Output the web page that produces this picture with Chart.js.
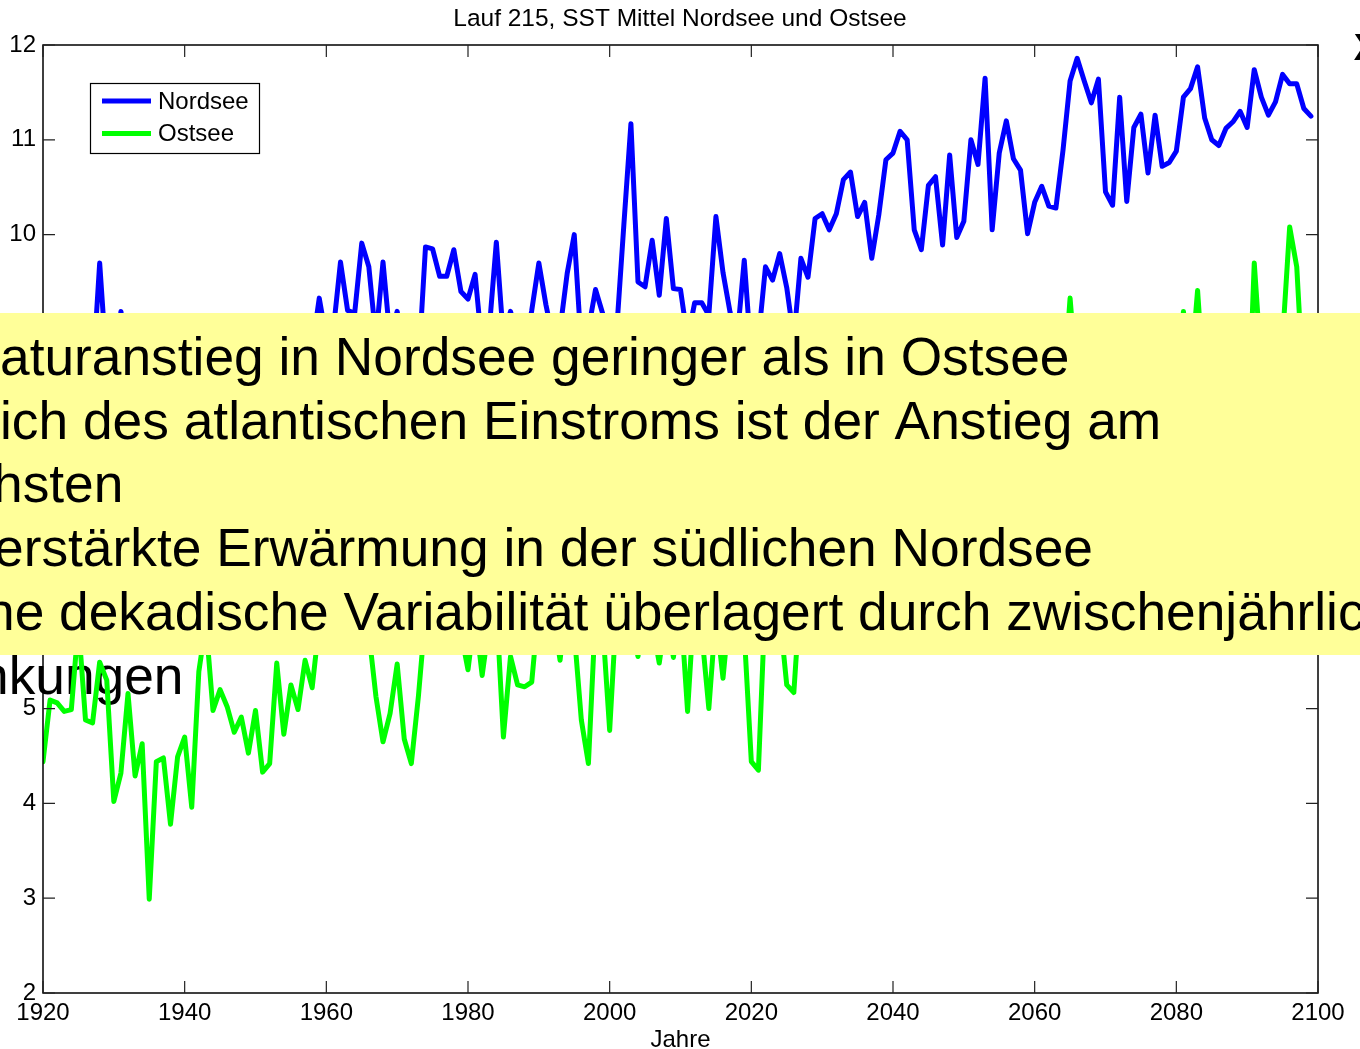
<!DOCTYPE html>
<html>
<head>
<meta charset="utf-8">
<script src="https://cdn.jsdelivr.net/npm/chart.js@4.4.1/dist/chart.umd.min.js"></script>
<style>
  html, body { margin: 0; padding: 0; background: #fff; overflow: hidden; }
  #wrap { width: 1360px; height: 1049px; }
</style>
</head>
<body>
<div id="wrap"><canvas id="chart" width="1360" height="1049"></canvas></div>
<script>
// Jahresmittel der SST, Lauf 215 (1920 .. 2099)
const FIRST_YEAR = 1920;

const nordsee = [
  9.15, 8.7, 8.5, 8.8, 8.4, 8.6, 8.9, 8.5, 9.70, 8.6,
  8.4, 9.19, 8.6, 8.3, 8.7, 8.2, 8.6, 8.5, 8.3, 8.8,
  8.6, 8.2, 8.9, 9.0, 8.5, 8.8, 8.6, 8.9, 8.4, 8.9,
  8.7, 8.5, 8.8, 9.0, 8.6, 8.9, 8.5, 9.0, 8.8, 9.33,
  8.9, 9.0, 9.71, 9.2, 9.17, 9.91, 9.66, 8.9, 9.71, 8.9,
  9.19, 8.7, 8.9, 8.6, 9.87, 9.85, 9.56, 9.56, 9.84, 9.40,
  9.32, 9.58, 8.8, 9.0, 9.92, 8.9, 9.19, 8.9, 8.8, 9.20,
  9.70, 9.26, 8.9, 9.0, 9.59, 10.0, 8.8, 9.0, 9.42, 9.17,
  8.9, 9.0, 10.1, 11.17, 9.50, 9.45, 9.94, 9.36, 10.17, 9.43,
  9.42, 8.9, 9.28, 9.28, 9.15, 10.19, 9.60, 9.18, 8.9, 9.73,
  8.7, 8.9, 9.66, 9.52, 9.80, 9.44, 8.9, 9.75, 9.55, 10.17,
  10.22, 10.05, 10.22, 10.58, 10.66, 10.19, 10.34, 9.75, 10.21, 10.79,
  10.86, 11.09, 11.0, 10.05, 9.84, 10.52, 10.61, 9.89, 10.84, 9.97,
  10.14, 11.0, 10.74, 11.65, 10.05, 10.86, 11.2, 10.8, 10.68, 10.01,
  10.34, 10.51, 10.3, 10.28, 10.89, 11.62, 11.86, 11.62, 11.39, 11.64,
  10.45, 10.31, 11.45, 10.35, 11.13, 11.27, 10.65, 11.26, 10.72, 10.76,
  10.88, 11.45, 11.54, 11.77, 11.23, 11.0, 10.94, 11.12, 11.19, 11.30,
  11.13, 11.74, 11.45, 11.26, 11.40, 11.69, 11.59, 11.59, 11.33, 11.25,
];

const ostsee = [
  4.44, 5.09, 5.06, 4.97, 4.99, 5.9, 4.88, 4.85, 5.49, 5.3,
  4.02, 4.32, 5.16, 4.29, 4.63, 2.99, 4.44, 4.48, 3.78, 4.49,
  4.70, 3.96, 5.39, 5.9, 4.98, 5.20, 5.02, 4.75, 4.91, 4.53,
  4.98, 4.33, 4.42, 5.48, 4.73, 5.25, 4.99, 5.51, 5.22, 5.9,
  6.2, 6.0, 6.4, 5.9, 6.3, 6.1, 5.8, 5.13, 4.65, 4.95,
  5.47, 4.68, 4.42, 5.13, 6.0, 6.3, 5.9, 6.2, 6.0, 5.8,
  5.41, 6.0, 5.35, 5.9, 6.1, 4.70, 5.55, 5.25, 5.23, 5.28,
  6.1, 5.9, 6.0, 5.51, 6.2, 5.8, 4.88, 4.42, 6.0, 5.9,
  4.77, 6.1, 6.3, 5.9, 5.55, 6.2, 5.9, 5.48, 6.0, 5.54,
  6.1, 4.97, 6.2, 5.8, 5.00, 6.0, 5.32, 6.1, 6.0, 5.8,
  4.44, 4.35, 6.2, 6.4, 6.0, 5.25, 5.17, 6.3, 6.6, 7.0,
  6.4, 6.8, 7.2, 6.5, 7.4, 6.9, 6.2, 7.1, 7.5, 6.8,
  7.3, 7.8, 7.0, 6.6, 7.2, 7.6, 6.9, 7.4, 8.0, 7.1,
  7.5, 7.9, 7.2, 8.2, 7.0, 7.6, 8.1, 7.4, 7.8, 6.9,
  7.5, 7.9, 7.3, 7.7, 8.3, 9.33, 8.4, 8.0, 7.6, 8.5,
  7.2, 7.5, 8.3, 7.1, 7.9, 8.2, 7.4, 8.1, 7.6, 7.8,
  8.0, 9.19, 8.5, 9.41, 8.3, 7.8, 7.9, 8.2, 8.4, 8.1,
  7.7, 9.70, 8.6, 8.0, 8.3, 8.9, 10.08, 9.66, 8.3, 8.1,
];

const xTicks = [1920, 1940, 1960, 1980, 2000, 2020, 2040, 2060, 2080, 2100];
const yTicks = [2, 3, 4, 5, 6, 7, 8, 9, 10, 11, 12];

const chartTitle = 'Lauf 215, SST Mittel Nordsee und Ostsee';
const xTitle = 'Jahre';

// Textfeld der Folie, links abgeschnitten
const noteLines = [
  { text: 'aturanstieg in Nordsee geringer als in Ostsee', x: 0 },
  { text: 'ich des atlantischen Einstroms ist der Anstieg am', x: 0 },
  { text: 'hsten', x: -7 },
  { text: 'erstärkte Erwärmung in der südlichen Nordsee', x: -6 },
  { text: 'he dekadische Variabilität überlagert durch zwischenjährlic', x: -15 },
];
const noteTail = { text: 'nkungen', x: -21 };

const FONT = '"Liberation Sans", Arial, Helvetica, sans-serif';
const years = nordsee.map((_, i) => FIRST_YEAR + i);
const toPoints = (vals) => vals.map((v, i) => ({ x: years[i], y: v }));

const frame = {
  id: 'frame',
  afterDatasetsDraw(chart) {
    const { ctx, chartArea: a, scales: { x, y } } = chart;
    ctx.save();
    ctx.strokeStyle = '#000';
    ctx.lineWidth = 1.5;
    ctx.strokeRect(a.left, a.top, a.right - a.left, a.bottom - a.top);
    ctx.lineWidth = 1.2;
    ctx.strokeStyle = '#222';
    ctx.beginPath();
    x.ticks.forEach((t) => {
      const px = x.getPixelForValue(t.value);
      ctx.moveTo(px, a.bottom); ctx.lineTo(px, a.bottom - 12);
      ctx.moveTo(px, a.top); ctx.lineTo(px, a.top + 12);
    });
    y.ticks.forEach((t) => {
      const py = y.getPixelForValue(t.value);
      ctx.moveTo(a.left, py); ctx.lineTo(a.left + 12, py);
      ctx.moveTo(a.right, py); ctx.lineTo(a.right - 12, py);
    });
    ctx.stroke();
    ctx.restore();
  },
};

const overlay = {
  id: 'overlay',
  beforeDatasetsDraw(chart) {
    const { ctx } = chart;
    ctx.save();
    ctx.font = '53.3px ' + FONT;
    ctx.fillStyle = '#000';
    ctx.textBaseline = 'alphabetic';
    ctx.fillText(noteTail.text, noteTail.x, 693.5);
    ctx.restore();
  },
  afterDraw(chart) {
    const { ctx } = chart;
    ctx.save();

    // Legende
    ctx.fillStyle = '#fff';
    ctx.fillRect(90.5, 83.5, 169, 70);
    ctx.strokeStyle = '#000';
    ctx.lineWidth = 1.2;
    ctx.strokeRect(90.5, 83.5, 169, 70);
    ctx.font = '24px ' + FONT;
    ctx.textBaseline = 'middle';
    chart.data.datasets.forEach((ds, i) => {
      const ly = 101 + i * 32.5;
      ctx.strokeStyle = ds.borderColor;
      ctx.lineWidth = 5;
      ctx.beginPath();
      ctx.moveTo(102, ly); ctx.lineTo(151, ly);
      ctx.stroke();
      ctx.fillStyle = '#000';
      ctx.fillText(ds.label, 158, ly + 1);
    });

    // gelbes Textfeld
    ctx.fillStyle = '#ffff99';
    ctx.fillRect(0, 313, 1360, 342);
    ctx.fillStyle = '#000';
    ctx.font = '53.3px ' + FONT;
    ctx.textBaseline = 'alphabetic';
    noteLines.forEach((l, i) => ctx.fillText(l.text, l.x, 375 + i * 63.7));

    // Rest eines Symbols am rechten Rand
    ctx.font = 'bold 37px ' + FONT;
    ctx.textAlign = 'center';
    ctx.fillText('X', 1366, 60);
    ctx.restore();
  },
};

new Chart(document.getElementById('chart'), {
  type: 'line',
  data: {
    datasets: [
      { label: 'Nordsee', data: toPoints(nordsee), borderColor: '#0000ff', yAxisID: 'y' },
      { label: 'Ostsee', data: toPoints(ostsee), borderColor: '#00ff00', yAxisID: 'y' },
    ],
  },
  options: {
    responsive: false,
    animation: false,
    events: [],
    layout: { padding: 0 },
    elements: {
      point: { radius: 0 },
      line: { borderWidth: 5, tension: 0, borderJoinStyle: 'round', borderCapStyle: 'round', fill: false },
    },
    plugins: {
      legend: { display: false },
      tooltip: { enabled: false },
      title: {
        display: true,
        text: chartTitle,
        color: '#000',
        font: { family: FONT, size: 24.5, weight: 'normal', lineHeight: 1.2 },
        padding: { top: 4.2, bottom: 11.4 },
      },
    },
    scales: {
      x: {
        type: 'linear',
        min: 1920,
        max: 2100,
        afterBuildTicks: (s) => { s.ticks = xTicks.map((v) => ({ value: v })); },
        afterFit: (s) => { s.height = 56; },
        grid: { display: false, drawTicks: false },
        border: { display: false },
        ticks: {
          color: '#000', padding: 8, maxRotation: 0, autoSkip: false,
          font: { family: FONT, size: 24, lineHeight: 1.0 },
          callback: (v) => String(v),
        },
        title: {
          display: true, text: xTitle, color: '#000',
          font: { family: FONT, size: 24, lineHeight: 1.0 },
          padding: { top: 3, bottom: -3 },
        },
      },
      y: {
        position: 'left',
        min: 2,
        max: 12,
        afterBuildTicks: (s) => { s.ticks = yTicks.map((v) => ({ value: v })); },
        afterFit: (s) => { s.width = 43; },
        grid: { display: false, drawTicks: false },
        border: { display: false },
        ticks: {
          color: '#000', padding: 7,
          font: { family: FONT, size: 24, lineHeight: 1.0 },
          callback: (v) => String(v),
        },
      },
      yRight: {
        position: 'right',
        min: 2,
        max: 12,
        afterFit: (s) => { s.width = 42; },
        grid: { display: false, drawTicks: false },
        border: { display: false },
        ticks: { display: false },
      },
    },
  },
  plugins: [frame, overlay],
});
</script>
</body>
</html>
